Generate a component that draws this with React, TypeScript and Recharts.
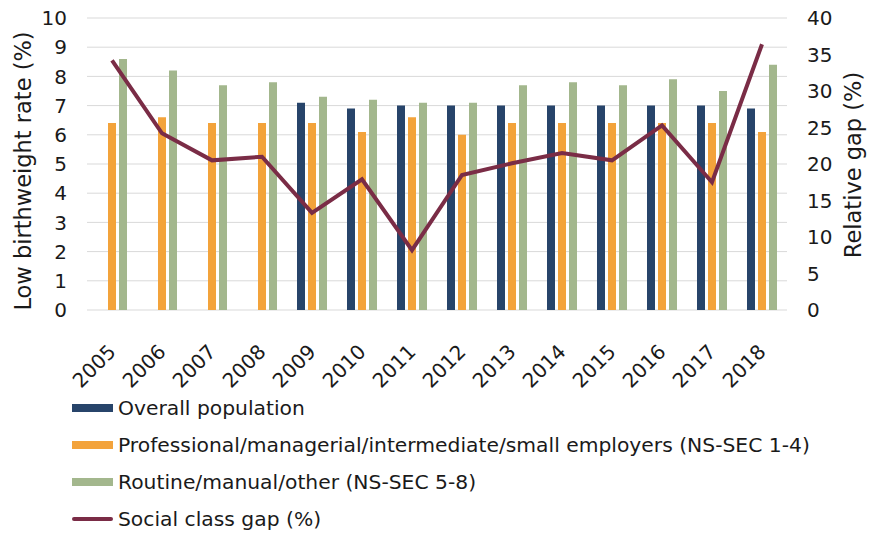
import React from 'react';
import { ComposedChart, Bar, Line, XAxis, YAxis, CartesianGrid, Legend } from 'recharts';

const years = ['2005', '2006', '2007', '2008', '2009', '2010', '2011', '2012', '2013', '2014', '2015', '2016', '2017', '2018'];
const overall = [null, null, null, null, 7.1, 6.9, 7.0, 7.0, 7.0, 7.0, 7.0, 7.0, 7.0, 6.9];
const professional = [6.4, 6.6, 6.4, 6.4, 6.4, 6.1, 6.6, 6.0, 6.4, 6.4, 6.4, 6.4, 6.4, 6.1];
const routine = [8.6, 8.2, 7.7, 7.8, 7.3, 7.2, 7.1, 7.1, 7.7, 7.8, 7.7, 7.9, 7.5, 8.4];
const gap = [34.2, 24.2, 20.5, 21.0, 13.3, 17.9, 8.2, 18.5, 20.1, 21.5, 20.5, 25.3, 17.5, 36.4];

const leftTicks = [0, 1, 2, 3, 4, 5, 6, 7, 8, 9, 10];
const rightTicks = [0, 5, 10, 15, 20, 25, 30, 35, 40];

const FONT = '"DejaVu Sans", Verdana, sans-serif';
const TEXT = '#1a1a1a';
const FS = 20;
const TITLE_FS = 22.5;

const series = [
  { key: 'overall', name: 'Overall population', color: '#27446a', type: 'bar' },
  { key: 'professional', name: 'Professional/managerial/intermediate/small employers (NS-SEC 1-4)', color: '#f3a33b', type: 'bar' },
  { key: 'routine', name: 'Routine/manual/other (NS-SEC 5-8)', color: '#a3b78d', type: 'bar' },
  { key: 'gap', name: 'Social class gap (%)', color: '#7a2c46', type: 'line' },
];

const data = years.map((year, i) => ({
  year,
  overall: overall[i],
  professional: professional[i],
  routine: routine[i],
  gap: gap[i],
}));

const YearTick = (props: any) => {
  const { x, y, payload } = props;
  return (
    <text
      x={x + 5}
      y={y + 35}
      transform={`rotate(-45, ${x + 5}, ${y + 35})`}
      textAnchor="end"
      fontSize={FS}
      fontFamily={FONT}
      fill={TEXT}
    >
      {payload.value}
    </text>
  );
};

const LegendBox = () => (
  <div style={{ height: 150, paddingTop: 6, paddingLeft: 72, fontFamily: FONT, fontSize: 20.3, color: TEXT, boxSizing: 'border-box' }}>
    {series.map((s) => (
      <div key={s.key} style={{ display: 'flex', alignItems: 'center', height: 37, whiteSpace: 'nowrap' }}>
        <span
          style={{
            display: 'inline-block',
            width: 41,
            height: s.type === 'bar' ? 8 : 4,
            background: s.color,
            marginRight: 5,
            borderRadius: s.type === 'line' ? 2 : 0,
          }}
        />
        <span>{s.name}</span>
      </div>
    ))}
  </div>
);

export default function App() {
  return (
    <div style={{ position: 'absolute', left: 0, top: 0, width: 877, height: 533, background: '#fff' }}>
      <ComposedChart
        width={877}
        height={533}
        data={data}
        margin={{ top: 18, right: 0, bottom: 0, left: 0 }}
        barSize={8}
        barGap={3}
      >
        <CartesianGrid vertical={false} stroke="#d9d9d9" yAxisId="left" />
        <XAxis
          dataKey="year"
          height={73}
          axisLine={false}
          tickLine={false}
          interval={0}
          tick={<YearTick />}
        />
        <YAxis
          yAxisId="left"
          domain={[0, 10]}
          ticks={leftTicks}
          width={87}
          axisLine={false}
          tickLine={false}
          tickSize={0}
          tickMargin={20}
          tick={{ fontSize: FS, fontFamily: FONT, fill: TEXT }}
          label={() => (
            <text x={23} y={171} transform="rotate(-90, 23, 171)" textAnchor="middle" dominantBaseline="central" fontSize={TITLE_FS} fontFamily={FONT} fill={TEXT}>
              Low birthweight rate (%)
            </text>
          )}
        />
        <YAxis
          yAxisId="right"
          orientation="right"
          domain={[0, 40]}
          ticks={rightTicks}
          width={90}
          axisLine={false}
          tickLine={false}
          tickSize={0}
          tickMargin={20}
          tick={{ fontSize: FS, fontFamily: FONT, fill: TEXT, textAnchor: 'start' }}
          label={() => (
            <text x={853} y={165} transform="rotate(-90, 853, 165)" textAnchor="middle" dominantBaseline="central" fontSize={TITLE_FS} fontFamily={FONT} fill={TEXT}>
              Relative gap (%)
            </text>
          )}
        />
        <Legend
          verticalAlign="bottom"
          layout="vertical"
          wrapperStyle={{ left: 0, bottom: 0, width: 877, height: 150 }}
          content={() => <LegendBox />}
        />
        <Bar yAxisId="left" dataKey="overall" name={series[0].name} fill={series[0].color} isAnimationActive={false} />
        <Bar yAxisId="left" dataKey="professional" name={series[1].name} fill={series[1].color} isAnimationActive={false} />
        <Bar yAxisId="left" dataKey="routine" name={series[2].name} fill={series[2].color} isAnimationActive={false} />
        <Line
          yAxisId="right"
          dataKey="gap"
          name={series[3].name}
          stroke={series[3].color}
          strokeWidth={4}
          dot={false}
          type="linear"
          isAnimationActive={false}
        />
      </ComposedChart>
    </div>
  );
}
